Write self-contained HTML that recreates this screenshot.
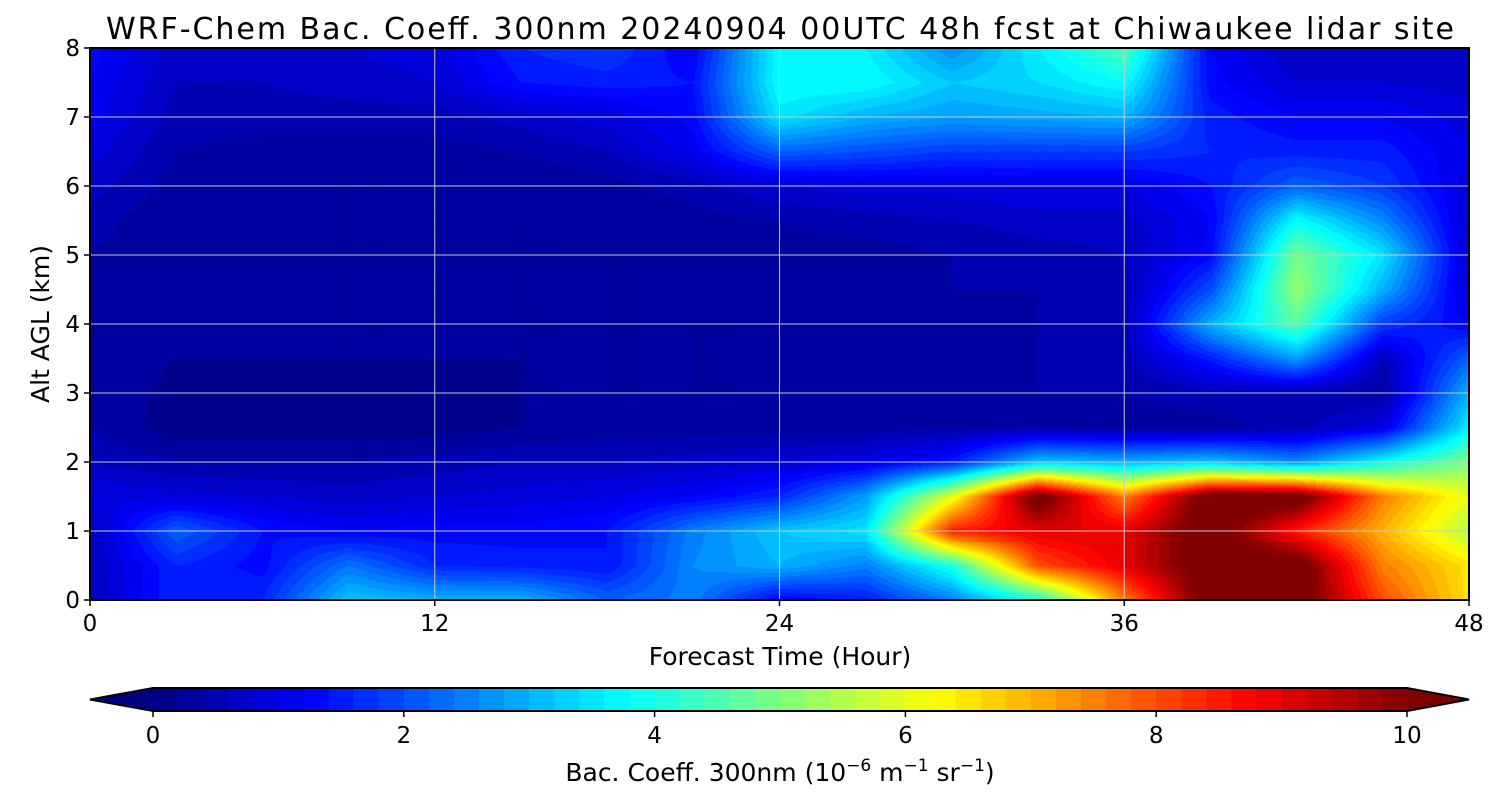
<!DOCTYPE html>
<html><head><meta charset="utf-8">
<style>
body{margin:0;background:#fff;width:1500px;height:800px;overflow:hidden;font-family:"DejaVu Sans","Liberation Sans",sans-serif;}
#wrap{position:relative;width:1500px;height:800px;}
canvas{position:absolute;}
svg{position:absolute;left:0;top:0;font-family:"DejaVu Sans","Liberation Sans",sans-serif;}
</style></head>
<body>
<div id="wrap">
<canvas id="hm" width="1379" height="552" style="left:90px;top:48px"></canvas>
<svg id="ov" width="1500" height="800"></svg>
</div>
<script>
const hours=[0,3,6,9,12,15,18,21,24,27,30,33,36,39,42,45,48];
const alts=[0,0.5,1,1.5,2,2.5,3,3.5,4,4.5,5,5.5,6,6.5,7,7.5,8];
// values: rows from alt 0 up to alt 8
const r0=[0.6,1.6,1.6,3.2,3.0,3.0,2.2,2.5,1.2,1.5,2.5,4.0,7.5,10.5,10.5,8,6.5];
const r05=[0.6,1.6,1.3,2.4,1.6,1.5,1.4,2.6,3.0,2.5,4.0,8.0,9,10.5,10.5,7.5,6.5];
const r1=[0.6,2.2,1.4,1.2,1.3,1.3,1.4,2.5,3.2,3.5,8.5,9,9,10.5,8.5,7,5.5];
const r15=[1.0,0.9,0.8,0.7,0.8,0.9,1.0,1.2,1.6,2.8,6.0,10.5,7.5,10.5,10.5,7.5,6];
const r2=[0.6,0.4,0.4,0.4,0.5,0.6,0.6,0.7,0.8,1.0,1.5,3.2,3.0,3.2,2.6,3.8,5.0];
const r25=[0.4,0.1,0.1,0.1,0.1,0.2,0.3,0.3,0.3,0.3,0.4,0.4,0.3,0.3,0.5,1.0,3.6];
const r3=[0.4,0.1,0.1,0.1,0.1,0.2,0.2,0.2,0.2,0.3,0.3,0.4,0.4,0.5,0.5,0.3,3.0];
const r35=[0.4,0.2,0.2,0.2,0.2,0.2,0.2,0.2,0.2,0.3,0.3,0.4,0.5,1.5,2.8,0.6,2.2];
const r4=[0.4,0.2,0.2,0.2,0.2,0.2,0.2,0.2,0.2,0.3,0.3,0.4,0.5,3.0,4.6,1.8,1.2];
const r45=[0.4,0.2,0.2,0.2,0.2,0.2,0.2,0.2,0.3,0.3,0.4,0.4,0.5,2.0,5.2,3.0,0.8];
const r5=[0.4,0.2,0.2,0.2,0.2,0.2,0.2,0.2,0.3,0.3,0.4,0.5,0.6,1.3,4.9,3.5,0.8];
const r55=[0.5,0.2,0.2,0.2,0.2,0.2,0.2,0.3,0.4,0.5,0.6,0.7,0.7,1.2,3.8,2.6,0.8];
const r6=[0.7,0.3,0.2,0.2,0.2,0.2,0.3,0.5,0.8,0.9,0.9,1.0,1.0,1.4,2.2,1.8,0.9];
const r65=[0.9,0.4,0.3,0.3,0.3,0.4,0.6,1.1,2.2,2.0,1.8,1.8,1.8,1.6,1.5,1.5,1.0];
const r7=[1.1,0.5,0.5,0.5,0.5,0.7,0.9,1.3,3.5,3.0,2.8,2.9,3.0,1.5,1.2,1.2,0.9];
const r75=[1.2,0.6,0.6,0.7,0.8,1.4,1.5,1.4,3.8,3.8,3.2,3.4,3.8,1.3,0.8,0.8,0.7];
const r8=[1.3,0.7,0.7,0.8,0.9,1.6,1.8,1.2,3.8,3.6,2.6,3.6,4.5,1.2,0.6,0.6,0.6];
const values=[r0,r05,r1,r15,r2,r25,r3,r35,r4,r45,r5,r55,r6,r65,r7,r75,r8];
const xTicks=[0,12,24,36,48];
const yTicks=[0,1,2,3,4,5,6,7,8];
const cbTicks=[0,2,4,6,8,10];

const PX=90,PY=48,PW=1379,PH=552;
const xS=h=>PX+h/48*PW, yS=a=>PY+PH-a/8*PH;
const CB0=153,CB1=1407,CBY=688,CBH=23;
const cS=v=>CB0+v/10*(CB1-CB0);
const STEP=0.2;
function jet(t){t=Math.max(0,Math.min(1,t));const c=x=>Math.round(255*Math.max(0,Math.min(1,1.5-Math.abs(4*t-x))));return [c(3),c(2),c(1)];}
function lvColor(v){let q=Math.floor(v/STEP)*STEP+STEP/2;return jet(q/10);}
const ctx=document.getElementById('hm').getContext('2d');
const img=ctx.createImageData(PW,PH);
function interp(h,a){
 let i=Math.min(hours.length-2,Math.max(0,hours.findIndex((v,k)=>h<=hours[k+1])));
 let j=Math.min(alts.length-2,Math.max(0,alts.findIndex((v,k)=>a<=alts[k+1])));
 const tx=(h-hours[i])/(hours[i+1]-hours[i]),ty=(a-alts[j])/(alts[j+1]-alts[j]);
 const v00=values[j][i],v10=values[j][i+1],v01=values[j+1][i],v11=values[j+1][i+1];
 return (v00*(1-tx)+v10*tx)*(1-ty)+(v01*(1-tx)+v11*tx)*ty;
}
for(let py=0;py<PH;py++){const a=(PH-py-0.5)/PH*8;
 for(let px=0;px<PW;px++){const h=(px+0.5)/PW*48;const c=lvColor(interp(h,a));const k=(py*PW+px)*4;
  img.data[k]=c[0];img.data[k+1]=c[1];img.data[k+2]=c[2];img.data[k+3]=255;}}
ctx.putImageData(img,0,0);

const svg=document.getElementById('ov');const NS='http://www.w3.org/2000/svg';
function mk(tag,attrs,txt){const e=document.createElementNS(NS,tag);for(const k in attrs)e.setAttribute(k,attrs[k]);if(txt!==undefined)e.textContent=txt;svg.appendChild(e);return e;}
xTicks.forEach(h=>{const e=mk('line',{x1:xS(h),x2:xS(h),y1:PY,y2:PY+PH,stroke:'#c8c8c8','stroke-width':1});

});
yTicks.forEach(a=>{const e=mk('line',{x1:PX,x2:PX+PW,y1:yS(a),y2:yS(a),stroke:'#c8c8c8','stroke-width':1});

});
const fr=mk('rect',{x:PX,y:PY,width:PW,height:PH,fill:'none',stroke:'#000','stroke-width':2});


xTicks.forEach(h=>{mk('line',{x1:xS(h),x2:xS(h),y1:PY+PH,y2:PY+PH+6,stroke:'#000','stroke-width':1.5});
const t=mk('text',{x:xS(h),y:PY+PH+31,'font-size':23,'text-anchor':'middle'},h);

});
yTicks.forEach(a=>{mk('line',{x1:PX-6,x2:PX,y1:yS(a),y2:yS(a),stroke:'#000','stroke-width':1.5});
const t=mk('text',{x:PX-10,y:yS(a)+8,'font-size':23,'text-anchor':'end'},a);

});
let t=mk('text',{x:780,y:39,'font-size':30,'text-anchor':'middle','textLength':1348},'WRF-Chem Bac. Coeff. 300nm  20240904 00UTC 48h fcst at Chiwaukee lidar site');


t=mk('text',{x:780,y:665,'font-size':25,'text-anchor':'middle'},'Forecast Time (Hour)');


t=mk('text',{x:49,y:324,'font-size':25,'text-anchor':'middle',transform:'rotate(-90 49 324)'},'Alt AGL (km)');


for(let v=0;v<10-1e-9;v+=STEP){const c=jet((v+STEP/2)/10);
 const r=mk('rect',{x:cS(v),y:CBY,width:cS(v+STEP)-cS(v)+0.6,height:CBH,fill:`rgb(${c})`});
 
 }
let c0=jet(0),c1=jet(1);
let p=mk('polygon',{points:`${CB0},${CBY} 90,${CBY+CBH/2} ${CB0},${CBY+CBH}`,fill:`rgb(${c0})`});


p=mk('polygon',{points:`${CB1},${CBY} 1469,${CBY+CBH/2} ${CB1},${CBY+CBH}`,fill:`rgb(${c1})`});


p=mk('polygon',{points:`${CB0},${CBY} ${CB1},${CBY} 1469,${CBY+CBH/2} ${CB1},${CBY+CBH} ${CB0},${CBY+CBH} 90,${CBY+CBH/2}`,fill:'none',stroke:'#000','stroke-width':2});


cbTicks.forEach(v=>{mk('line',{x1:cS(v),x2:cS(v),y1:CBY+CBH,y2:CBY+CBH+6,stroke:'#000','stroke-width':1.5});
const e=mk('text',{x:cS(v),y:743,'font-size':23,'text-anchor':'middle'},v);

});
t=mk('text',{x:780,y:781,'font-size':25,'text-anchor':'middle'});


t.innerHTML='Bac. Coeff. 300nm  (10<tspan dy="-10" font-size="17">−6</tspan><tspan dy="10"> m</tspan><tspan dy="-10" font-size="17">−1</tspan><tspan dy="10"> sr</tspan><tspan dy="-10" font-size="17">−1</tspan><tspan dy="10">)</tspan>';
</script>
</body></html>
